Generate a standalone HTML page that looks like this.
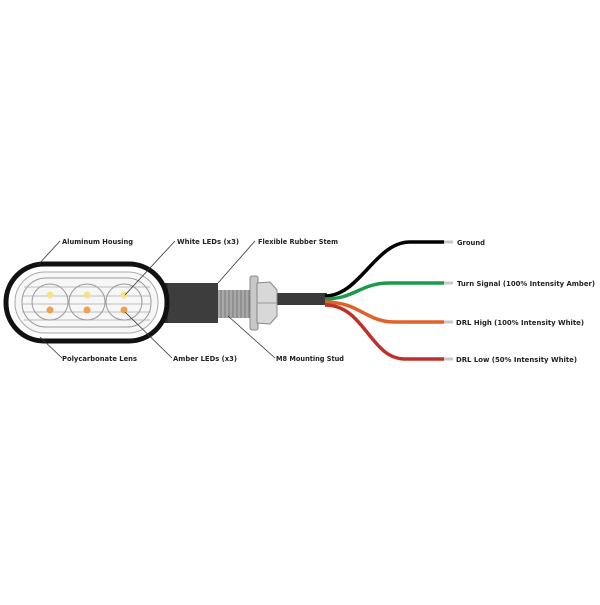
<!DOCTYPE html>
<html><head><style>
body{margin:0;background:#fff;width:600px;height:600px;overflow:hidden}
svg text{font-family:"DejaVu Sans","Liberation Sans",sans-serif;font-weight:bold;font-size:7px;fill:#222}
</style></head><body>
<svg width="600" height="600" viewBox="0 0 600 600">
<rect x="150" y="283" width="68" height="40" fill="#3d3d3d"/>
<rect x="150" y="283" width="18" height="40" fill="#2e2e2e"/>
<rect x="218" y="290" width="34" height="28" fill="#a8a8a8"/>
<g stroke="#7a7a7a" stroke-width="1">
<line x1="221" y1="290" x2="221" y2="318"/><line x1="225" y1="290" x2="225" y2="318"/><line x1="229" y1="290" x2="229" y2="318"/><line x1="233" y1="290" x2="233" y2="318"/><line x1="237" y1="290" x2="237" y2="318"/><line x1="241" y1="290" x2="241" y2="318"/><line x1="245" y1="290" x2="245" y2="318"/><line x1="249" y1="290" x2="249" y2="318"/>
</g>
<rect x="275" y="293" width="52" height="12" fill="#3a3a3a"/>
<rect x="250" y="276" width="8" height="54" rx="2" fill="#c8c8c8" stroke="#888" stroke-width="1"/>
<path d="M257 283 L270 282 L277 290 L277 316 L270 324 L257 323 Z" fill="#d8d8d8" stroke="#888" stroke-width="1"/>
<line x1="257" y1="303" x2="277" y2="303" stroke="#999"/>
<g fill="none" stroke-width="3.5">
<path d="M325 296 C360 296 375 242 410 242 L444 242" stroke="#000"/>
<path d="M325 299 C355 299 360 283 390 283 L444 283" stroke="#1a9a4a"/>
<path d="M325 302 C360 302 365 322 395 322 L444 322" stroke="#e0622a"/>
<path d="M325 305 C365 305 370 359 405 359 L444 359" stroke="#c0302a"/>
</g>
<g stroke="#c8c8c8" stroke-width="3"><line x1="444" y1="242" x2="453" y2="242"/><line x1="444" y1="283" x2="453" y2="283"/><line x1="444" y1="322" x2="453" y2="322"/><line x1="444" y1="359" x2="453" y2="359"/></g>
<rect x="6" y="264" width="161" height="77" rx="38" fill="#fff" stroke="#111" stroke-width="5"/>
<rect x="15" y="272" width="143" height="61" rx="30" fill="#f7f7f7" stroke="#aaa" stroke-width="1"/>
<rect x="22" y="278" width="129" height="49" rx="24" fill="none" stroke="#999" stroke-width="1"/>
<g stroke="#aaa" stroke-width="0.8">
<line x1="24" y1="287" x2="150" y2="287"/><line x1="22" y1="296" x2="151" y2="296"/><line x1="22" y1="304" x2="151" y2="304"/><line x1="22" y1="312" x2="151" y2="312"/><line x1="24" y1="320" x2="150" y2="320"/>
</g>
<g fill="none" stroke="#999" stroke-width="1"><circle cx="50" cy="302" r="18"/><circle cx="87" cy="302" r="18"/><circle cx="124" cy="302" r="18"/></g>
<g fill="#f3e48a"><circle cx="50" cy="295" r="3.5"/><circle cx="87" cy="295" r="3.5"/><circle cx="124" cy="295" r="3.5"/></g>
<g fill="#f0a050"><circle cx="50" cy="310" r="3.5"/><circle cx="87" cy="310" r="3.5"/><circle cx="124" cy="310" r="3.5"/></g>
<g stroke="#333" stroke-width="0.8" fill="none">
<path d="M38 265 L60 241"/>
<path d="M125 295 L175 241"/>
<path d="M218 283 L255 241"/>
<path d="M40 337 L62 358"/>
<path d="M125 312 L172 358"/>
<path d="M228 316 L275 358"/>
</g>
<text x="62" y="244" textLength="71" lengthAdjust="spacingAndGlyphs">Aluminum Housing</text>
<text x="177" y="244" textLength="62" lengthAdjust="spacingAndGlyphs">White LEDs (x3)</text>
<text x="258" y="244" textLength="80" lengthAdjust="spacingAndGlyphs">Flexible Rubber Stem</text>
<text x="62" y="361" textLength="75" lengthAdjust="spacingAndGlyphs">Polycarbonate Lens</text>
<text x="173" y="361" textLength="64" lengthAdjust="spacingAndGlyphs">Amber LEDs (x3)</text>
<text x="276" y="361" textLength="68" lengthAdjust="spacingAndGlyphs">M8 Mounting Stud</text>
<text x="457" y="245" textLength="28" lengthAdjust="spacingAndGlyphs">Ground</text>
<text x="457" y="286" textLength="138" lengthAdjust="spacingAndGlyphs">Turn Signal (100% Intensity Amber)</text>
<text x="456" y="325" textLength="128" lengthAdjust="spacingAndGlyphs">DRL High (100% Intensity White)</text>
<text x="456" y="362" textLength="121" lengthAdjust="spacingAndGlyphs">DRL Low (50% Intensity White)</text>
</svg>
</body></html>
